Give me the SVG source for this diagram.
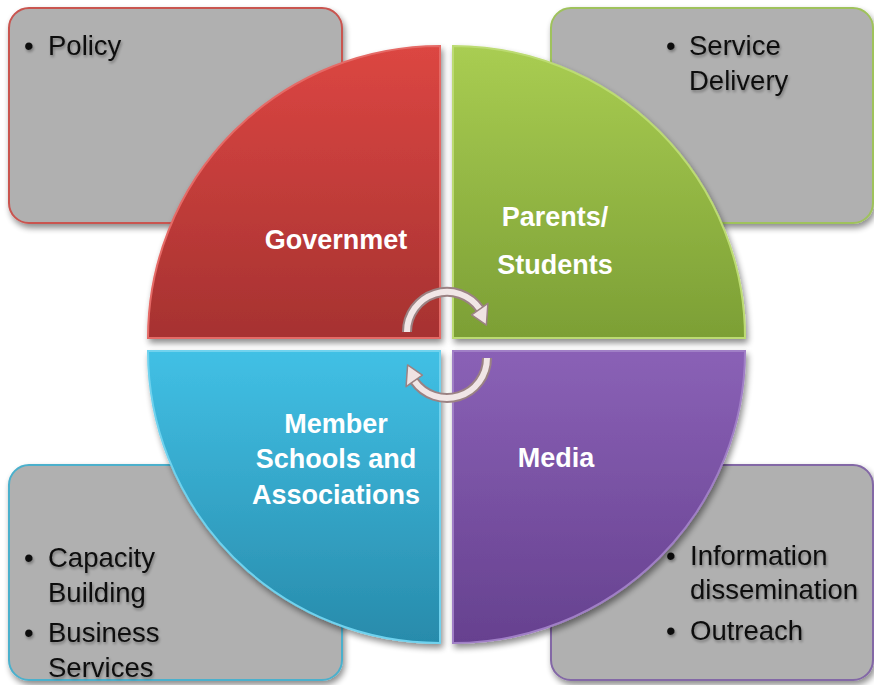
<svg xmlns="http://www.w3.org/2000/svg" width="874" height="685" viewBox="0 0 874 685">
  <defs>
    <linearGradient id="gRed" x1="0" y1="0" x2="0" y2="1">
      <stop offset="0" stop-color="#dc4642"/>
      <stop offset="1" stop-color="#a63231"/>
    </linearGradient>
    <linearGradient id="gGreen" x1="0" y1="0" x2="0" y2="1">
      <stop offset="0" stop-color="#a9cd52"/>
      <stop offset="1" stop-color="#7c9f35"/>
    </linearGradient>
    <linearGradient id="gBlue" x1="0" y1="0" x2="0" y2="1">
      <stop offset="0" stop-color="#41c0e5"/>
      <stop offset="1" stop-color="#288bab"/>
    </linearGradient>
    <linearGradient id="gPurple" x1="0" y1="0" x2="0" y2="1">
      <stop offset="0" stop-color="#8a61b6"/>
      <stop offset="1" stop-color="#66418f"/>
    </linearGradient>
    <filter id="shadow" x="-10%" y="-10%" width="125%" height="125%">
      <feGaussianBlur in="SourceAlpha" stdDeviation="3"/>
      <feOffset dx="2" dy="4" result="b"/>
      <feComponentTransfer><feFuncA type="linear" slope="0.45"/></feComponentTransfer>
      <feMerge><feMergeNode/><feMergeNode in="SourceGraphic"/></feMerge>
    </filter>
    <filter id="tshadow" x="-10%" y="-20%" width="130%" height="150%">
      <feGaussianBlur in="SourceAlpha" stdDeviation="1.5"/>
      <feOffset dx="1" dy="2"/>
      <feComponentTransfer><feFuncA type="linear" slope="0.35"/></feComponentTransfer>
      <feMerge><feMergeNode/><feMergeNode in="SourceGraphic"/></feMerge>
    </filter>
    <style>
      .box { fill: #b0b0b0; stroke-width: 2; filter: url(#shadow); }
      .quad { filter: url(#shadow); stroke-width: 2; }
      .bul { font-family: "Liberation Sans", Arial, sans-serif; font-size: 27.5px; fill: #111; filter: url(#tshadow); }
      .lbl { font-family: "Liberation Sans", Arial, sans-serif; font-size: 27px; font-weight: bold; fill: #ffffff; text-anchor: middle; }
      .arcOut { fill: none; stroke: #9b8283; stroke-width: 10; stroke-linecap: butt; }
      .arcIn { fill: none; stroke: #f1e6e6; stroke-width: 6; stroke-linecap: butt; }
      .head { fill: #efe3e3; stroke: #9b8283; stroke-width: 1.5; stroke-linejoin: round; }
    </style>
  </defs>

  <rect width="874" height="685" fill="#ffffff"/>

  <g id="box-policy">
    <rect class="box" x="9" y="8" width="333" height="215" rx="20" stroke="#c95450"/>
    <text class="bul" x="24" y="55">•</text>
    <text class="bul" x="48" y="55">Policy</text>
  </g>
  <g id="box-service">
    <rect class="box" x="551" y="8" width="322" height="215" rx="20" stroke="#9fc25c"/>
    <text class="bul" x="666" y="55">•</text>
    <text class="bul" x="689" y="55">Service</text>
    <text class="bul" x="689" y="90">Delivery</text>
  </g>
  <g id="box-capacity">
    <rect class="box" x="9" y="465" width="333" height="215" rx="20" stroke="#4bb0cc"/>
    <text class="bul" x="24" y="567">•</text>
    <text class="bul" x="48" y="567">Capacity</text>
    <text class="bul" x="48" y="602">Building</text>
    <text class="bul" x="24" y="642">•</text>
    <text class="bul" x="48" y="642">Business</text>
    <text class="bul" x="48" y="677">Services</text>
  </g>
  <g id="box-information">
    <rect class="box" x="551" y="465" width="322" height="215" rx="20" stroke="#8367a6"/>
    <text class="bul" x="666" y="565">•</text>
    <text class="bul" x="690" y="565">Information</text>
    <text class="bul" x="690" y="599">dissemination</text>
    <text class="bul" x="666" y="640">•</text>
    <text class="bul" x="690" y="640">Outreach</text>
  </g>

  <g id="node-government">
    <path class="quad" d="M440,338 L148,338 A292,292 0 0 1 440,46 Z" fill="url(#gRed)" stroke="#e56a66"/>
    <text class="lbl" x="336" y="249">Governmet</text>
  </g>
  <g id="node-parents">
    <path class="quad" d="M453,338 L453,46 A292,292 0 0 1 745,338 Z" fill="url(#gGreen)" stroke="#bcdb73"/>
    <text class="lbl" x="555" y="226">Parents/</text>
    <text class="lbl" x="555" y="274">Students</text>
  </g>
  <g id="node-member">
    <path class="quad" d="M440,351 L440,643 A292,292 0 0 1 148,351 Z" fill="url(#gBlue)" stroke="#6fd2ee"/>
    <text class="lbl" x="336" y="433">Member</text>
    <text class="lbl" x="336" y="468">Schools and</text>
    <text class="lbl" x="336" y="504">Associations</text>
  </g>
  <g id="node-media">
    <path class="quad" d="M453,351 L745,351 A292,292 0 0 1 453,643 Z" fill="url(#gPurple)" stroke="#a07fc6"/>
    <text class="lbl" x="556" y="467">Media</text>
  </g>

  <g id="connectors">
    <path class="arcOut" d="M407,332 A40,40 0 0 1 479.8,309"/>
    <path class="arcIn" d="M407,332 A40,40 0 0 1 479.8,309"/>
    <polygon class="head" points="471.6,314.8 487.9,303.3 486.4,325.1"/>
    <path class="arcOut" d="M487,358 A40,40 0 0 1 414.2,380.9"/>
    <path class="arcIn" d="M487,358 A40,40 0 0 1 414.2,380.9"/>
    <polygon class="head" points="422.4,375.2 406.1,386.7 407.6,364.9"/>
  </g>
</svg>
